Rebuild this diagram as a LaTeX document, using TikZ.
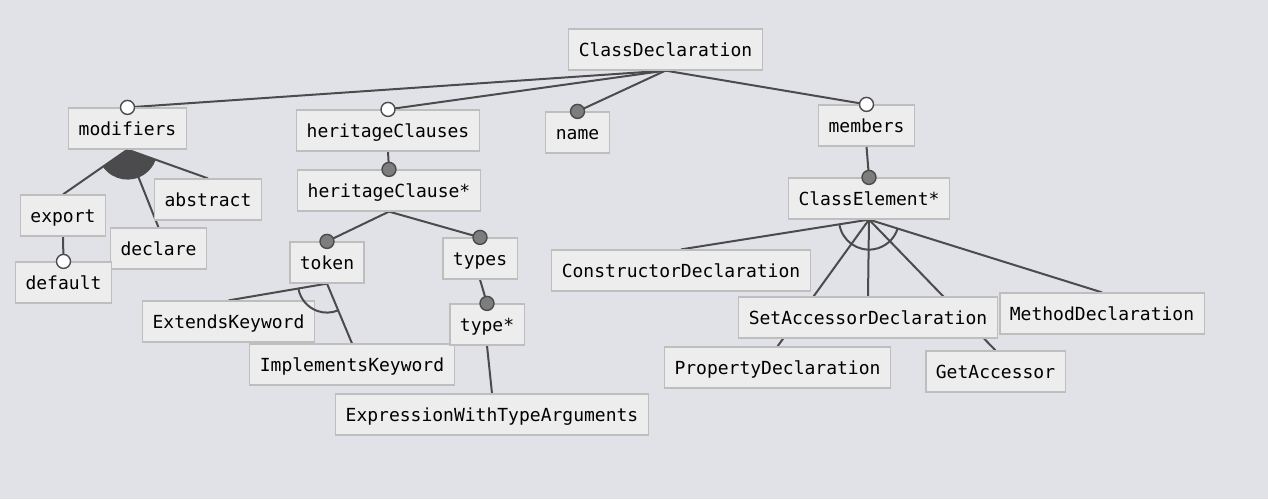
\documentclass[tikz,border=0pt]{standalone}
\usepackage{fontspec}
\setmonofont{DejaVu Sans Mono}
\usepackage{tikz}
\pgfdeclarelayer{background}
\pgfdeclarelayer{edges}
\pgfsetlayers{background,edges,main}
\definecolor{bgclr}{RGB}{225,226,231}
\definecolor{boxclr}{RGB}{237,237,237}
\definecolor{rimclr}{RGB}{190,190,190}
\definecolor{lineclr}{RGB}{75,75,78}
\definecolor{markclr}{RGB}{125,125,125}

\begin{document}
\begin{tikzpicture}
    [x=0.5pt,y=-0.5pt,
     every node/.style={draw=rimclr,fill=boxclr,line width=0.6pt,font=\ttfamily\fontsize{9}{11}\selectfont,
       minimum height=20.5pt,inner xsep=5pt,text height=8pt,text depth=1pt},
     link/.style={draw=lineclr,line width=1pt},
     opt/.style={draw=lineclr,fill=white,line width=0.7pt},
     man/.style={draw=lineclr,fill=markclr,line width=0.7pt}]
    \useasboundingbox (0,0) rectangle (1268,499);
    \begin{pgfonlayer}{background}
      \fill[bgclr] (0,0) rectangle (1268,499);
    \end{pgfonlayer}

    \node (cd) at (665.5,49.5) {ClassDeclaration};
    \node (mod) at (127.5,128.5) {modifiers};
    \node (hcs) at (388,130.5) {heritageClauses};
    \node (nm) at (577.5,132.5) {name};
    \node (mem) at (866.5,125.5) {members};
    \node (hc) at (389,190.5) {heritageClause*};
    \node (ce) at (869,198.5) {ClassElement*};
    \node (exp) at (63,215.5) {export};
    \node (abs) at (208,199.5) {abstract};
    \node (dcl) at (158.5,248.5) {declare};
    \node (dft) at (63.5,282.5) {default};
    \node (tok) at (327,262.5) {token};
    \node (tys) at (480,258.5) {types};
    \node (ext) at (228.5,321.5) {ExtendsKeyword};
    \node (imp) at (352,364.5) {ImplementsKeyword};
    \node (ty) at (487,324.5) {type*};
    \node (ewta) at (492,414.5) {ExpressionWithTypeArguments};
    \node (ctor) at (681,270.5) {ConstructorDeclaration};
    \node (sad) at (868,317.5) {SetAccessorDeclaration};
    \node (md) at (1102,313.5) {MethodDeclaration};
    \node (pd) at (777.5,367.5) {PropertyDeclaration};
    \node (ga) at (995.5,371.5) {GetAccessor};

    \begin{pgfonlayer}{edges}
      \path[link] (cd.south) edge (mod.north) edge (hcs.north) edge (nm.north) edge (mem.north);
      \path[link] (hcs.south) edge (hc.north);
      \path[link] (mem.south) edge (ce.north);
      \path[link] (hc.south) edge (tok.north) edge (tys.north);
      \path[link] (tys.south) edge (ty.north);
      \path[link] (ty.south) edge (ewta.north);
      \path[link] (mod.south) edge (exp.north) edge (dcl.north) edge (abs.north);
      \path[link] (exp.south) edge (dft.north);
      \path[link] (tok.south) edge (ext.north) edge (imp.north);
      \path[link] (ce.south) edge (ctor.north) edge (pd.north) edge (sad.north)
        edge (ga.north) edge (md.north);
    \end{pgfonlayer}

    % groups
    \fill[lineclr] (mod.south) -- ++(215.5:15pt) arc[start angle=215.5,end angle=339.6,radius=15pt] -- cycle;
    \draw[link] (tok.south) ++(190.4:14.5pt) arc[start angle=190.4,end angle=292.3,radius=14.5pt];
    \draw[link] (ce.south) ++(189.4:15pt) arc[start angle=189.4,end angle=342.4,radius=15pt];

    % optional / mandatory marks
    \foreach \n in {mod,hcs,mem,dft}
      \draw[opt] (\n.north) circle (3.5pt);
    \foreach \n in {nm,hc,ce,tok,tys,ty}
      \draw[man] (\n.north) circle (3.5pt);

\end{tikzpicture}
\end{document}
